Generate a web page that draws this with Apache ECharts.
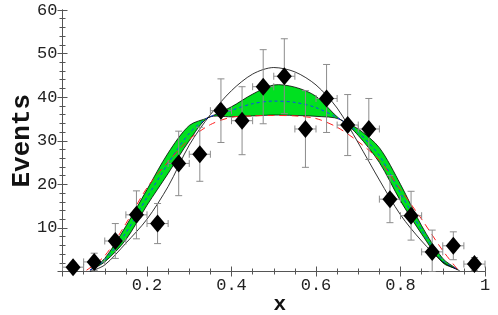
<!DOCTYPE html>
<html><head><meta charset="utf-8">
<script src="https://cdn.jsdelivr.net/npm/echarts@6/dist/echarts.min.js"></script>
<style>html,body{margin:0;padding:0;background:#fff}#c{width:498px;height:315px}</style>
</head><body><div id="c"></div>
<script>
// ---- data ----
const binX   = [0.025,0.075,0.125,0.175,0.225,0.275,0.325,0.375,0.425,0.475,0.525,0.575,0.625,0.675,0.725,0.775,0.825,0.875,0.925,0.975];
const events = [1,2.2,7,13,11,24.8,26.9,36.9,34.6,42.4,44.8,32.7,39.7,33.6,32.7,16.6,12.8,4.5,5.9,1.7];
const yErr   = [1,2,4,5.5,4.6,7.4,6.2,7.3,7.8,8.5,8.6,8.8,7.8,7,7,5.4,5.6,5,3.2,1.5];
const xErr   = 0.025;

const bandX     = [0.065,0.1,0.15,0.2,0.25,0.3,0.345,0.4,0.45,0.5,0.55,0.6,0.657,0.7,0.75,0.8,0.85,0.9,0.935];
const bandUpper = [0.3,3.0,10.4,18.8,27.2,33.5,35.3,37.8,40.7,42.8,42.3,40.2,34.9,32.7,28.4,20.0,10.5,3.0,0.5];
const bandLower = [0.3,2.2,7.3,15.2,22.5,30.0,35.3,35.5,35.7,35.9,35.8,35.6,34.9,31.2,25.0,16.2,8.6,2.0,0.5];
const blueY     = [0.3,2.6,8.9,17.0,24.8,31.7,35.3,37.0,38.5,39.1,38.8,37.6,34.9,31.9,26.6,18.0,9.5,2.5,0.5];

const redX = [0.057,0.1,0.15,0.2,0.25,0.3,0.35,0.4,0.45,0.5,0.55,0.6,0.65,0.7,0.75,0.8,0.85,0.9,0.935];
const redY = [0.3,3.6,11.0,19.2,25.2,30.3,33.7,35.4,35.7,35.8,35.7,35.1,33.1,29.8,25.5,18.8,12.0,4.8,0.5];

const blackX = [0.065,0.1,0.15,0.2,0.25,0.3,0.35,0.4,0.45,0.5,0.55,0.6,0.65,0.7,0.75,0.8,0.85,0.9,0.94];
const blackY = [0,1.5,6.5,12,19.5,29,36,41.5,45.3,46.8,45.8,42.8,37.5,29.5,21,13,7,2.2,0.2];

const xTickLabels = {0.2:'0.2',0.4:'0.4',0.6:'0.6',0.8:'0.8',1:'1'};
const yTickLabels = {10:'10',20:'20',30:'30',40:'40',50:'50',60:'60'};

// ---- chart ----
const zip = (xs, ys) => xs.map((x,i)=>[x, ys[i]]);
const frame = '#555';
const mono = 'Liberation Mono';
const tick = {show:true,inside:true,length:5,lineStyle:{color:frame}};
const line = {show:true,lineStyle:{color:frame,width:1}};
const chart = echarts.init(document.getElementById('c'));
chart.setOption({
  animation:false,
  grid:{left:62.5,right:13,top:10,bottom:43.5,containLabel:false,outerBoundsMode:'none'},
  xAxis:[
    {type:'value',min:0,max:1,interval:0.2,position:'bottom',
      axisLine:line,axisTick:tick,splitLine:{show:false},
      minorTick:{show:true,splitNumber:4,length:3,lineStyle:{color:frame}},
      axisLabel:{fontFamily:mono,fontSize:17,color:'#222',margin:5,
        formatter:v=>xTickLabels[+v.toFixed(2)]||''},
      name:'x',nameLocation:'middle',nameGap:23,nameMoveOverlap:false,
      nameTextStyle:{fontFamily:mono,fontWeight:'bold',fontSize:21,color:'#111',padding:[0,0,0,12]}},
    {type:'value',min:0,max:1,interval:0.2,position:'top',
      axisLine:line,axisTick:tick,
      minorTick:{show:true,splitNumber:4,length:3,lineStyle:{color:frame}},
      axisLabel:{show:false},splitLine:{show:false}}
  ],
  yAxis:[
    {type:'value',min:0,max:60,interval:10,position:'left',
      axisLine:line,axisTick:tick,
      minorTick:{show:true,splitNumber:5,length:3,lineStyle:{color:frame}},
      splitLine:{show:false},
      axisLabel:{fontFamily:mono,fontSize:17,color:'#222',margin:5,
        formatter:v=>yTickLabels[v]||''},
      name:'Events',nameLocation:'middle',nameGap:27,nameMoveOverlap:false,
      nameTextStyle:{fontFamily:mono,fontWeight:'bold',fontSize:26,color:'#111'}},
    {type:'value',min:0,max:60,interval:10,position:'right',
      axisLine:line,axisTick:tick,
      minorTick:{show:true,splitNumber:5,length:3,lineStyle:{color:frame}},
      splitLine:{show:false},axisLabel:{show:false}}
  ],
  series:[
    {type:'custom',z:2,data:[0],clip:true,
      renderItem:(params,api)=>{
        const pts=[];
        bandX.forEach((x,i)=>pts.push(api.coord([x,bandUpper[i]])));
        for(let i=bandX.length-1;i>=0;i--) pts.push(api.coord([bandX[i],bandLower[i]]));
        return {type:'polygon',shape:{points:pts,smooth:0.3},
          style:{fill:'#00e020',stroke:'#000',lineWidth:0.8}};
      }},
    {type:'line',data:zip(bandX,blueY),smooth:0.3,symbol:'none',
      lineStyle:{color:'#1040ff',width:1,type:[3,3]},z:3},
    {type:'line',data:zip(redX,redY),smooth:0.3,symbol:'none',
      lineStyle:{color:'#ff2020',width:1,type:[7,5]},z:3},
    {type:'line',data:zip(blackX,blackY),smooth:0.3,symbol:'none',
      lineStyle:{color:'#000',width:0.8},z:3},
    {type:'custom',z:4,
      data:binX.map((x,i)=>[x,events[i],yErr[i]]),
      renderItem:(params,api)=>{
        const x=api.value(0), y=api.value(1), e=api.value(2);
        const top=api.coord([x,y+e]), bot=api.coord([x,Math.max(0,y-e)]);
        const l=api.coord([x-xErr,y]), r=api.coord([x+xErr,y]);
        const st={stroke:'#8c8c8c',lineWidth:1};
        const cap=3.5;
        const seg=(x1,y1,x2,y2)=>({type:'line',shape:{x1,y1,x2,y2},style:st});
        return {type:'group',children:[
          seg(top[0],top[1],bot[0],bot[1]),
          seg(top[0]-cap,top[1],top[0]+cap,top[1]),
          seg(bot[0]-cap,bot[1],bot[0]+cap,bot[1]),
          seg(l[0],l[1],r[0],r[1]),
          seg(l[0],l[1]-cap,l[0],l[1]+cap),
          seg(r[0],r[1]-cap,r[0],r[1]+cap)
        ]};
      }},
    {type:'scatter',z:5,data:zip(binX,events),symbol:'diamond',symbolSize:[15,18],
      itemStyle:{color:'#000',opacity:1}}
  ]
});
</script></body></html>
